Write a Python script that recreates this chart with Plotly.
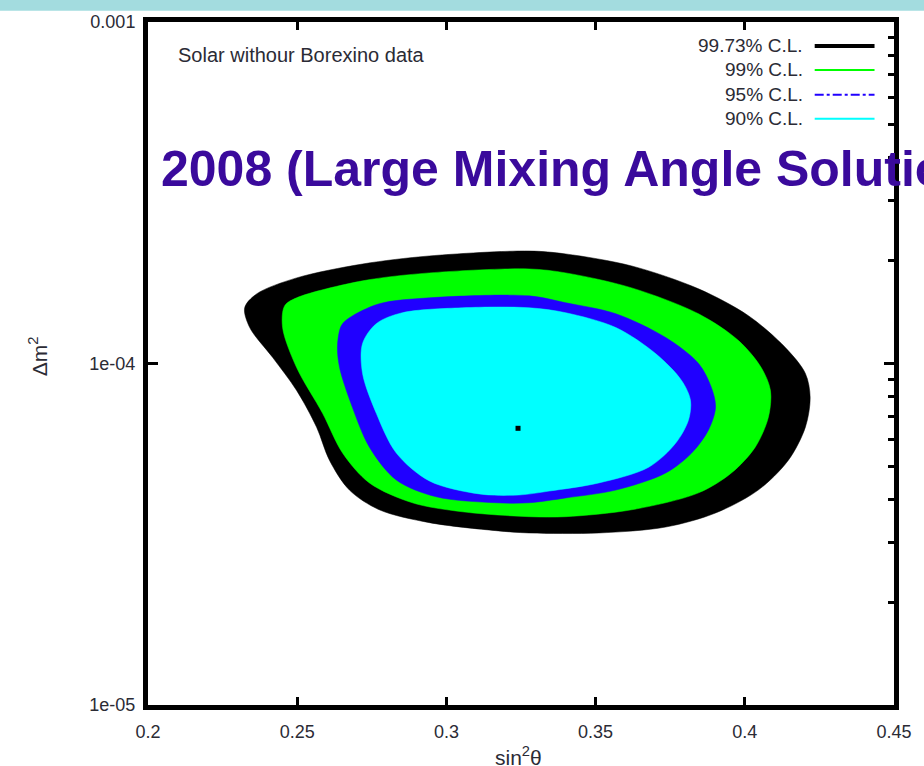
import plotly.graph_objects as go

# ---- data (sin^2 theta, delta m^2) ----
x_9973 = [0.2324, 0.2364, 0.2498, 0.2719, 0.2943, 0.3277, 0.3400, 0.3621, 0.3845, 0.4012,
          0.4136, 0.4203, 0.4219, 0.4203, 0.4146, 0.4045, 0.3902, 0.3735, 0.3511, 0.3277,
          0.3166, 0.2943, 0.2775, 0.2675, 0.2608, 0.2565, 0.2498, 0.2418, 0.2341, 0.2324]
y_9973 = [1.456e-4, 1.599e-4, 1.781e-4, 1.956e-4, 2.065e-4, 2.135e-4, 2.093e-4, 1.930e-4, 1.654e-4, 1.380e-4,
          1.113e-4, 0.935e-4, 0.796e-4, 0.651e-4, 0.521e-4, 0.426e-4, 0.365e-4, 0.332e-4, 0.319e-4, 0.319e-4,
          0.324e-4, 0.342e-4, 0.373e-4, 0.426e-4, 0.521e-4, 0.651e-4, 0.834e-4, 1.041e-4, 1.274e-4, 1.456e-4]

x_99 = [0.2458, 0.2498, 0.2719, 0.2943, 0.3277, 0.3400, 0.3621, 0.3845, 0.3979, 0.4055,
        0.4086, 0.4079, 0.4035, 0.3955, 0.3845, 0.3621, 0.3400, 0.3277, 0.3053, 0.2886,
        0.2742, 0.2652, 0.2585, 0.2498, 0.2451, 0.2458]
y_99 = [1.476e-4, 1.557e-4, 1.746e-4, 1.842e-4, 1.892e-4, 1.842e-4, 1.665e-4, 1.398e-4, 1.167e-4, 0.973e-4,
        0.834e-4, 0.696e-4, 0.569e-4, 0.478e-4, 0.418e-4, 0.373e-4, 0.356e-4, 0.356e-4, 0.368e-4, 0.391e-4,
        0.447e-4, 0.547e-4, 0.715e-4, 0.973e-4, 1.274e-4, 1.476e-4]

x_95 = [0.2635, 0.2648, 0.2675, 0.2775, 0.2943, 0.3277, 0.3400, 0.3568, 0.3735, 0.3845,
        0.3888, 0.3902, 0.3878, 0.3822, 0.3735, 0.3568, 0.3400, 0.3277, 0.3166, 0.2966,
        0.2832, 0.2742, 0.2685, 0.2642, 0.2635]
y_95 = [1.128e-4, 1.291e-4, 1.361e-4, 1.496e-4, 1.557e-4, 1.578e-4, 1.506e-4, 1.398e-4, 1.191e-4, 1.000e-4,
        0.851e-4, 0.744e-4, 0.638e-4, 0.547e-4, 0.478e-4, 0.426e-4, 0.404e-4, 0.391e-4, 0.391e-4, 0.407e-4,
        0.456e-4, 0.569e-4, 0.744e-4, 0.973e-4, 1.128e-4]

x_90 = [0.2719, 0.2765, 0.2852, 0.3053, 0.3277, 0.3400, 0.3568, 0.3701, 0.3788, 0.3818,
        0.3811, 0.3768, 0.3678, 0.3511, 0.3344, 0.3243, 0.3110, 0.2943, 0.2832, 0.2765,
        0.2719, 0.2719]
y_90 = [1.144e-4, 1.308e-4, 1.408e-4, 1.456e-4, 1.456e-4, 1.408e-4, 1.274e-4, 1.069e-4, 0.892e-4, 0.780e-4,
        0.682e-4, 0.584e-4, 0.497e-4, 0.447e-4, 0.423e-4, 0.412e-4, 0.415e-4, 0.453e-4, 0.547e-4, 0.715e-4,
        0.935e-4, 1.144e-4]

best_x = [0.3240]
best_y = [6.46e-5]

levels = ["99.73% C.L.", "99% C.L.", "95% C.L.", "90% C.L."]
level_colors = ["#000000", "#00ff00", "#2000ff", "#00ffff"]

x_tickvals = [0.2, 0.25, 0.3, 0.35, 0.4, 0.45]
x_ticktext = ["0.2", "0.25", "0.3", "0.35", "0.4", "0.45"]
y_tickvals = [1e-5, 1e-4, 1e-3]
y_ticktext = ["1e-05", "1e-04", "0.001"]
y_minor = [2e-5, 3e-5, 4e-5, 5e-5, 6e-5, 7e-5, 8e-5, 9e-5,
           2e-4, 3e-4, 4e-4, 5e-4, 6e-4, 7e-4, 8e-4, 9e-4]

FONT = "Liberation Sans, Arial, Helvetica, sans-serif"
TXT = "#2b2b35"

fig = go.Figure()
for xs, ys, name, col in zip([x_9973, x_99, x_95, x_90], [y_9973, y_99, y_95, y_90], levels, level_colors):
    fig.add_trace(go.Scatter(
        x=xs, y=ys, name=name, mode="lines", fill="toself", fillcolor=col,
        line=dict(color=col, width=0.5, shape="spline", smoothing=0.9),
        hoverinfo="skip", showlegend=False))

fig.add_trace(go.Scatter(x=best_x, y=best_y, mode="markers",
                         marker=dict(symbol="square", size=5, color="black"),
                         showlegend=False, hoverinfo="skip"))
# invisible trace to carry the right-hand axis (minor ticks)
fig.add_trace(go.Scatter(x=best_x, y=best_y, yaxis="y2", mode="markers",
                         marker=dict(opacity=0), showlegend=False, hoverinfo="skip"))

axis_common = dict(showgrid=False, zeroline=False, showline=True, linewidth=5, linecolor="black",
                   ticks="inside", tickcolor="black", tickwidth=3,
                   tickfont=dict(family=FONT, size=18, color=TXT))

fig.update_layout(
    width=924, height=766,
    margin=dict(l=148, r=28, t=20, b=61),
    paper_bgcolor="white", plot_bgcolor="white",
    xaxis=dict(range=[0.2, 0.45], tickmode="array", tickvals=x_tickvals, ticktext=x_ticktext,
               ticklen=8, mirror="ticks", ticklabelstandoff=6, **axis_common),
    yaxis=dict(type="log", range=[-5, -3], tickmode="array", tickvals=y_tickvals, ticktext=y_ticktext,
               ticklen=10, mirror=True, ticklabelstandoff=4, **axis_common),
    yaxis2=dict(type="log", range=[-5, -3], overlaying="y", side="right", anchor="x",
                showgrid=False, zeroline=False, showline=False, showticklabels=False,
                ticks="inside", tickmode="array", tickvals=[1e-4], ticklen=10, tickwidth=3, tickcolor="black",
                minor=dict(ticks="inside", tickmode="array", tickvals=y_minor, ticklen=6,
                           tickwidth=3, tickcolor="black")),
    showlegend=False,
)

# top slide band
fig.add_shape(type="rect", xref="paper", yref="paper", x0=-0.25, x1=1.1, y0=1.0165, y1=1.06,
              fillcolor="#a3dcdf", line=dict(width=0), layer="below")

# legend (gnuplot style: text then sample line)
leg_y = [0.9650, 0.9299, 0.8934, 0.8584]
leg_w = [4, 2, 2, 2]
leg_dash = ["solid", "solid", "dashdot", "solid"]
for lab, col, yy, w, d in zip(levels, level_colors, leg_y, leg_w, leg_dash):
    fig.add_annotation(text=lab, xref="paper", yref="paper", x=0.8810, y=yy, xanchor="right",
                       yanchor="middle", showarrow=False, font=dict(family=FONT, size=19, color=TXT))
    fig.add_shape(type="line", xref="paper", yref="paper", x0=0.8937, x1=0.9739, y0=yy, y1=yy,
                  line=dict(color=col, width=w, dash=d))

fig.add_annotation(text="Solar withour Borexino data", xref="paper", yref="paper", x=0.0381, y=0.9518,
                   xanchor="left", yanchor="middle", showarrow=False,
                   font=dict(family=FONT, size=20, color=TXT))

fig.add_annotation(text="2008 (Large Mixing Angle Solution)", xref="paper", yref="paper", x=0.015, y=0.785,
                   xanchor="left", yanchor="middle", showarrow=False,
                   font=dict(family="Liberation Sans, Arial, sans-serif", size=50, color="#3a0a9c",
                             weight="bold"))

# axis titles
fig.add_annotation(text="Δm<sup>2</sup>", xref="paper", yref="paper", x=-0.1470, y=0.511,
                   xanchor="center", yanchor="middle", textangle=-90, showarrow=False,
                   font=dict(family=FONT, size=21, color=TXT))
fig.add_annotation(text="sin<sup>2</sup>θ", xref="paper", yref="paper", x=0.497, y=-0.052,
                   xanchor="center", yanchor="top", showarrow=False,
                   font=dict(family=FONT, size=21, color=TXT))

fig.write_html("out.html")
